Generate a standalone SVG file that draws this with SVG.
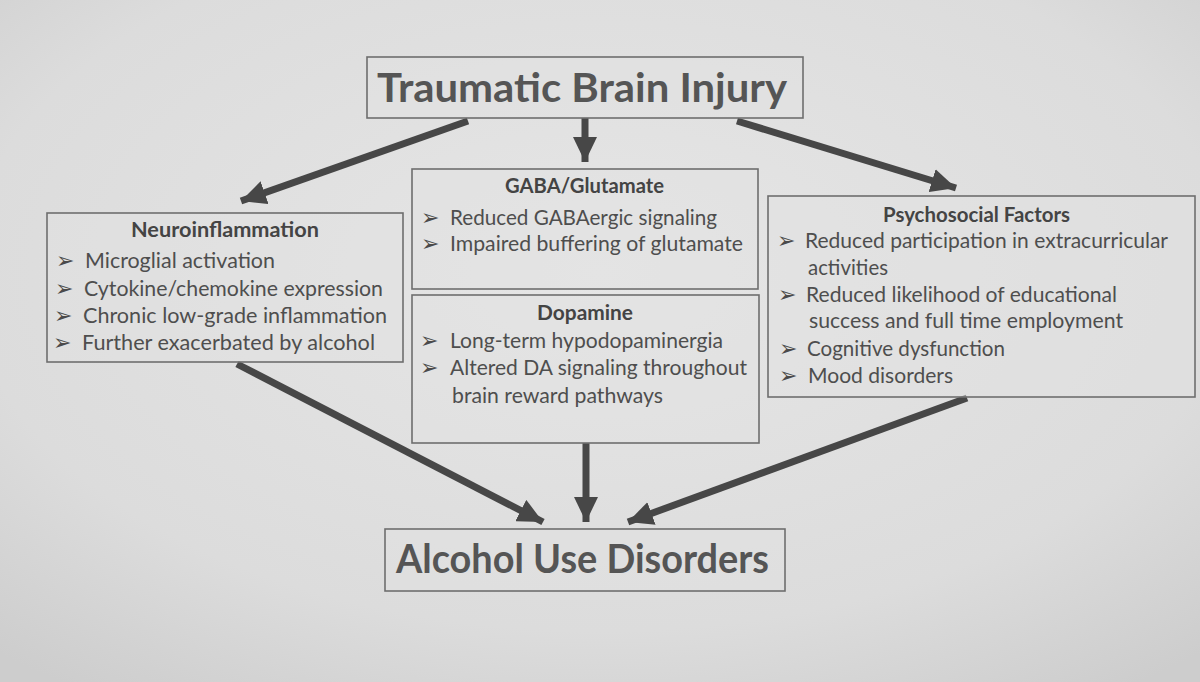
<svg xmlns="http://www.w3.org/2000/svg" width="1200" height="682" viewBox="0 0 1200 682">
<defs>
<radialGradient id="bg" cx="0.5" cy="0.4" r="0.75">
<stop offset="0" stop-color="#e6e6e6"/>
<stop offset="0.7" stop-color="#dcdcdc"/>
<stop offset="1" stop-color="#cdcdcd"/>
</radialGradient>
<marker id="ah" markerWidth="26" markerHeight="24" refX="25" refY="12" orient="auto" markerUnits="userSpaceOnUse">
<path d="M0,0 L25,12 L0,24 z" fill="#474747"/>
</marker>
<style>
.box{fill:#e2e2e2;fill-opacity:0.5;stroke:#6e6e6e;stroke-width:1.6}
.big{font-family:Lato,"Open Sans",sans-serif;font-weight:bold;font-size:41px;fill:#555}
.ttl{font-family:Lato,"Open Sans",sans-serif;font-weight:bold;font-size:20px;fill:#444}
.itm{font-family:Lato,"Open Sans",sans-serif;font-size:21px;fill:#4e4e4e}
.bul{font-family:"DejaVu Sans",sans-serif;font-size:22px;fill:#4a4a4a}
.con{stroke:#474747;stroke-width:7;fill:none;marker-end:url(#ah)}
</style>
</defs>
<rect width="1200" height="682" fill="url(#bg)"/>

<g id="connectors">
<line class="con" x1="468" y1="121" x2="241" y2="201"/>
<line class="con" x1="585" y1="118" x2="585" y2="162"/>
<line class="con" x1="737" y1="121" x2="956" y2="188"/>
<line class="con" x1="237" y1="364" x2="543" y2="522"/>
<line class="con" x1="586" y1="443" x2="586" y2="522"/>
<line class="con" x1="967" y1="398" x2="628" y2="522"/>
</g>

<g id="tbi">
<rect class="box" x="367" y="57" width="436" height="61"/>
<text class="big" x="377" y="102" textLength="410" lengthAdjust="spacingAndGlyphs">Traumatic Brain Injury</text>
</g>

<g id="neuroinflammation">
<rect class="box" x="47" y="213" width="356" height="149"/>
<text class="ttl" x="131" y="237" textLength="188" lengthAdjust="spacingAndGlyphs">Neuroinflammation</text>
<text class="bul" x="56" y="268">➢</text>
<text class="itm" x="85" y="268" textLength="190" lengthAdjust="spacingAndGlyphs">Microglial activation</text>
<text class="bul" x="55" y="296">➢</text>
<text class="itm" x="84" y="296" textLength="299" lengthAdjust="spacingAndGlyphs">Cytokine/chemokine expression</text>
<text class="bul" x="54" y="323">➢</text>
<text class="itm" x="83" y="323" textLength="304" lengthAdjust="spacingAndGlyphs">Chronic low-grade inflammation</text>
<text class="bul" x="53" y="350">➢</text>
<text class="itm" x="82" y="350" textLength="293" lengthAdjust="spacingAndGlyphs">Further exacerbated by alcohol</text>
</g>

<g id="gaba">
<rect class="box" x="412" y="169" width="346" height="120"/>
<text class="ttl" x="505" y="193" textLength="159" lengthAdjust="spacingAndGlyphs">GABA/Glutamate</text>
<text class="bul" x="421" y="225">➢</text>
<text class="itm" x="450" y="225" textLength="267" lengthAdjust="spacingAndGlyphs">Reduced GABAergic signaling</text>
<text class="bul" x="421" y="251">➢</text>
<text class="itm" x="450" y="251" textLength="293" lengthAdjust="spacingAndGlyphs">Impaired buffering of glutamate</text>
</g>

<g id="dopamine">
<rect class="box" x="412" y="295" width="347" height="148"/>
<text class="ttl" x="537" y="320" textLength="96" lengthAdjust="spacingAndGlyphs">Dopamine</text>
<text class="bul" x="420" y="348">➢</text>
<text class="itm" x="450" y="348" textLength="273" lengthAdjust="spacingAndGlyphs">Long-term hypodopaminergia</text>
<text class="bul" x="420" y="375">➢</text>
<text class="itm" x="450" y="375" textLength="297" lengthAdjust="spacingAndGlyphs">Altered DA signaling throughout</text>
<text class="itm" x="452" y="403" textLength="211" lengthAdjust="spacingAndGlyphs">brain reward pathways</text>
</g>

<g id="psychosocial">
<rect class="box" x="768" y="196" width="427" height="201"/>
<text class="ttl" x="883" y="222" textLength="187" lengthAdjust="spacingAndGlyphs">Psychosocial Factors</text>
<text class="bul" x="777" y="248">➢</text>
<text class="itm" x="805" y="248" textLength="363" lengthAdjust="spacingAndGlyphs">Reduced participation in extracurricular</text>
<text class="itm" x="808" y="275" textLength="80" lengthAdjust="spacingAndGlyphs">activities</text>
<text class="bul" x="778" y="302">➢</text>
<text class="itm" x="806" y="302" textLength="311" lengthAdjust="spacingAndGlyphs">Reduced likelihood of educational</text>
<text class="itm" x="809" y="328" textLength="314" lengthAdjust="spacingAndGlyphs">success and full time employment</text>
<text class="bul" x="779" y="356">➢</text>
<text class="itm" x="807" y="356" textLength="198" lengthAdjust="spacingAndGlyphs">Cognitive dysfunction</text>
<text class="bul" x="779" y="383">➢</text>
<text class="itm" x="808" y="383" textLength="145" lengthAdjust="spacingAndGlyphs">Mood disorders</text>
</g>

<g id="aud">
<rect class="box" x="385" y="529" width="400" height="62"/>
<text class="big" x="396" y="573" textLength="373" lengthAdjust="spacingAndGlyphs">Alcohol Use Disorders</text>
</g>
</svg>
